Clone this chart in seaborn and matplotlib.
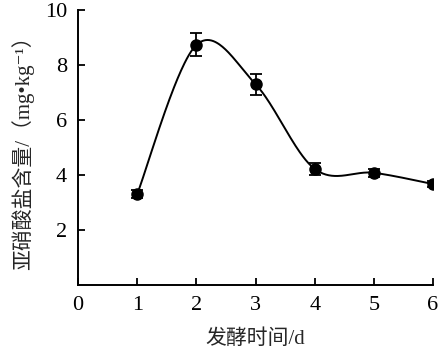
import numpy as np
import pandas as pd
import matplotlib
matplotlib.use("Agg")
import matplotlib.pyplot as plt
import seaborn as sns

# Data
days = [1, 2, 3, 4, 5, 6]
nitrite = [3.31, 8.73, 7.30, 4.22, 4.08, 3.67]
err = [0.15, 0.42, 0.38, 0.22, 0.15, 0.10]
x_ticks = [0, 1, 2, 3, 4, 5, 6]
y_ticks = [2, 4, 6, 8, 10]


def smooth_curve(xs, ys, n=60):
    # Excel-style smoothed line (cubic Bezier with 1/6 tangents)
    pts = np.column_stack([xs, ys]).astype(float)
    out = []
    for i in range(len(pts) - 1):
        p0 = pts[i]
        p3 = pts[i + 1]
        pm = pts[i - 1] if i > 0 else pts[i]
        pp = pts[i + 2] if i + 2 < len(pts) else pts[i + 1]
        c1 = p0 + (p3 - pm) / 6.0
        c2 = p3 - (pp - p0) / 6.0
        t = np.linspace(0, 1, n)[:, None]
        seg = ((1 - t) ** 3) * p0 + 3 * ((1 - t) ** 2) * t * c1 + 3 * (1 - t) * t ** 2 * c2 + t ** 3 * p3
        out.append(seg if i == 0 else seg[1:])
    seg = np.vstack(out)
    return pd.DataFrame({"x": seg[:, 0], "y": seg[:, 1]})


sns.set_style("ticks")
plt.rcParams['font.family'] = ['Liberation Serif', 'Noto Sans CJK SC', 'DejaVu Serif']
plt.rcParams['axes.unicode_minus'] = False

fig = plt.figure(figsize=(4.41, 3.57), dpi=100)
ax = fig.add_axes([0.177, 0.2017, 0.805, 0.7703])

curve = smooth_curve(days, nitrite)
sns.lineplot(data=curve, x="x", y="y", sort=False, color="black", linewidth=1.4, ax=ax)
ax.errorbar(days, nitrite, yerr=err, fmt="o", color="black", markersize=8,
            capsize=4, elinewidth=1.3, capthick=1.3)

ax.set_xlim(0, 6)
ax.set_ylim(0, 10)
ax.set_xticks(x_ticks)
ax.set_yticks(y_ticks)
ax.tick_params(direction="in", length=5, width=1.3, labelsize=16, pad=8, colors="black")
for s in ["top", "right"]:
    ax.spines[s].set_visible(False)
for s in ["left", "bottom"]:
    ax.spines[s].set_linewidth(1.4)
    ax.spines[s].set_color("black")

ax.set_xlabel("发酵时间/d", fontsize=15, labelpad=10)
ax.set_ylabel("亚硝酸盐含量/（mg•kg⁻¹）", fontsize=15, labelpad=8)

fig.savefig("out.png", dpi=100)
